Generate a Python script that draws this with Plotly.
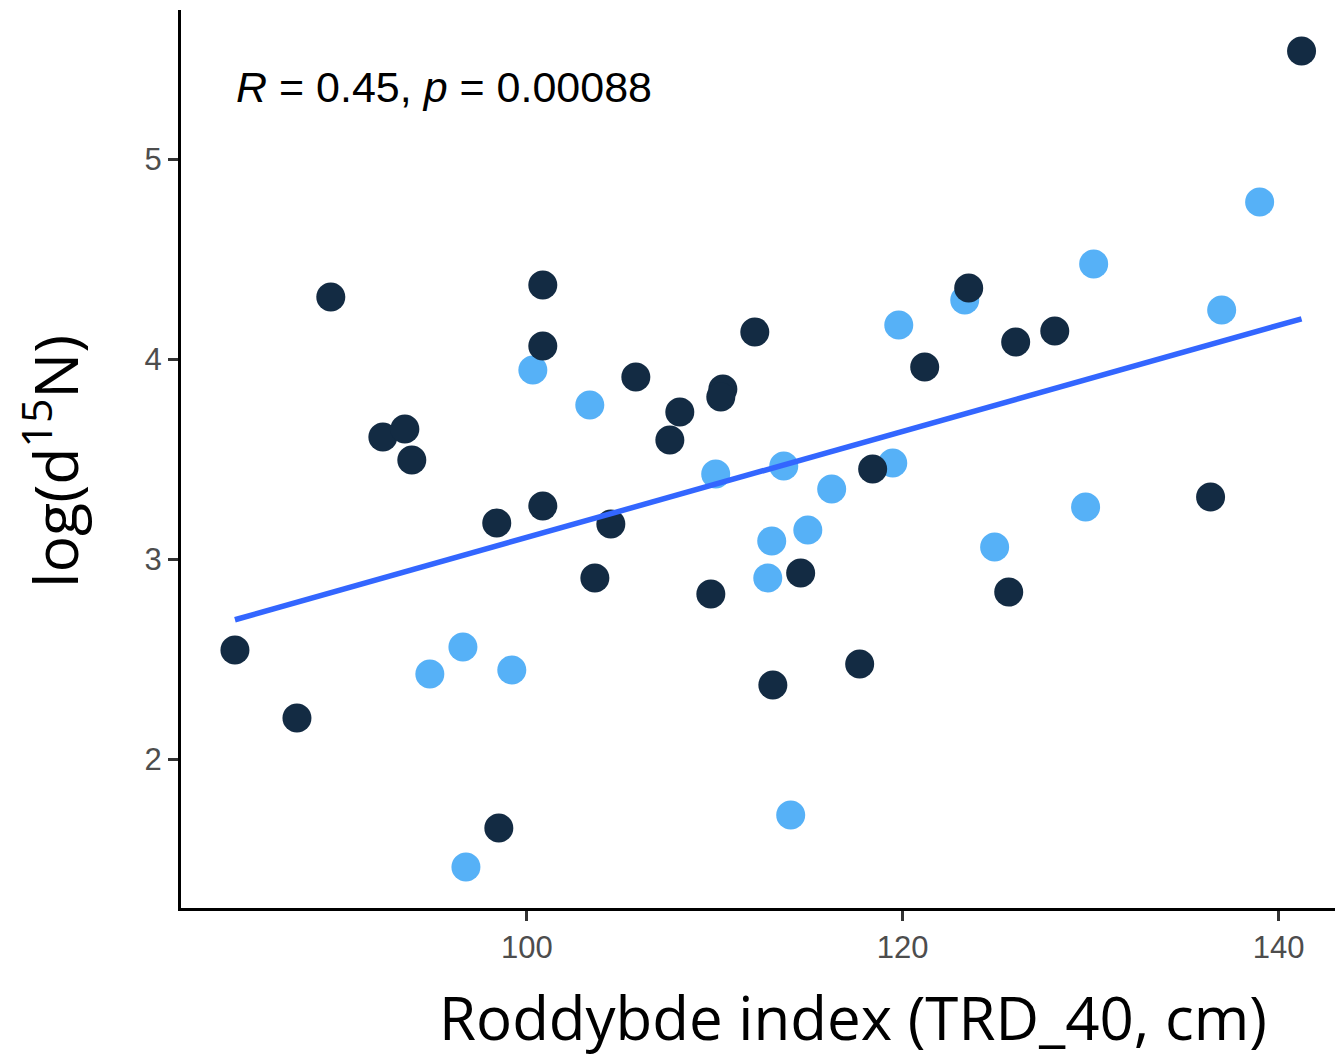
import numpy as np
import plotly.graph_objects as go

# Dark group (value 0)
dark_x = [84.47, 87.77, 89.57, 92.34, 93.51, 93.88, 98.40, 98.51, 100.85, 100.85,
          100.85, 103.62, 104.47, 105.80, 107.61, 108.14, 109.79, 110.43, 110.32, 112.13,
          113.09, 114.57, 117.71, 118.40, 121.17, 123.51, 126.01, 125.64, 128.09, 136.38,
          141.22]
dark_y = [2.545, 2.205, 4.31, 3.61, 3.65, 3.495, 3.18, 1.655, 4.37, 4.065,
          3.265, 2.905, 3.175, 3.91, 3.595, 3.735, 2.825, 3.85, 3.81, 4.135,
          2.37, 2.93, 2.475, 3.45, 3.96, 4.355, 4.085, 2.835, 4.14, 3.31,
          5.54]
# Light group (value 1)
light_x = [94.84, 96.60, 96.76, 99.20, 100.32, 103.35, 110.05, 112.82, 113.03, 113.67,
           114.04, 114.95, 116.22, 119.47, 119.79, 123.30, 124.89, 129.73, 130.16, 136.97,
           138.99]
light_y = [2.425, 2.56, 1.46, 2.445, 3.945, 3.77, 3.425, 2.905, 3.09, 3.465,
           1.72, 3.145, 3.35, 3.48, 4.17, 4.295, 3.06, 3.26, 4.475, 4.245,
           4.785]

x_ticks = [100, 120, 140]
y_ticks = [2, 3, 4, 5]
stat_label = "<i>R</i> = 0.45, <i>p</i> = 0.00088"
x_title = "Roddybde index (TRD_40, cm)"
y_title = "log(d<sup>15</sup>N)"

all_x = np.array(dark_x + light_x)
all_y = np.array(dark_y + light_y)
slope, intercept = np.polyfit(all_x, all_y, 1)
fx = np.array([all_x.min(), all_x.max()])
fy = slope * fx + intercept

fig = go.Figure()
fig.add_trace(go.Scatter(x=light_x, y=light_y, mode="markers",
                         marker=dict(color="#56B1F7", size=29, line=dict(width=0)),
                         showlegend=False, hoverinfo="skip"))
fig.add_trace(go.Scatter(x=dark_x, y=dark_y, mode="markers",
                         marker=dict(color="#132B43", size=29, line=dict(width=0)),
                         showlegend=False, hoverinfo="skip"))
fig.add_trace(go.Scatter(x=fx, y=fy, mode="lines",
                         line=dict(color="#3366FF", width=5.5),
                         showlegend=False, hoverinfo="skip"))

L, R, T, B = 181, 0, 10, 147
W, H = 1335, 1055
pw, ph = W - L - R, H - T - B

fig.update_layout(
    width=W, height=H,
    margin=dict(l=L, r=R, t=T, b=B),
    plot_bgcolor="white", paper_bgcolor="white",
    xaxis=dict(range=[81.6, 143.0], tickvals=x_ticks, ticks="outside", ticklen=10,
               tickwidth=3, tickcolor="#333333", showline=True, linecolor="black",
               linewidth=3, showgrid=False, zeroline=False,
               tickfont=dict(family="Liberation Sans, Arial", size=31, color="#4D4D4D")),
    yaxis=dict(range=[1.255, 5.745], tickvals=y_ticks, ticks="outside", ticklen=10,
               tickwidth=3, tickcolor="#333333", showline=True, linecolor="black",
               linewidth=3, showgrid=False, zeroline=False,
               tickfont=dict(family="Liberation Sans, Arial", size=31, color="#4D4D4D")),
)

fig.add_annotation(x=84.42, y=5.36, xref="x", yref="y", text=stat_label,
                   showarrow=False, xanchor="left", yanchor="middle",
                   font=dict(family="Liberation Sans, Arial", size=43, color="black"))
fig.add_annotation(x=(853 - L) / pw, y=(H - B - 1017) / ph, xref="paper", yref="paper",
                   text=x_title, showarrow=False, xanchor="center", yanchor="middle",
                   font=dict(family="Open Sans", size=60, color="black"))
fig.add_annotation(x=(51 - L) / pw, y=(H - B - 462) / ph, xref="paper", yref="paper",
                   text=y_title, textangle=-90,
                   showarrow=False, xanchor="center", yanchor="middle",
                   font=dict(family="Open Sans", size=61, color="black"))

fig.write_html("out.html")
